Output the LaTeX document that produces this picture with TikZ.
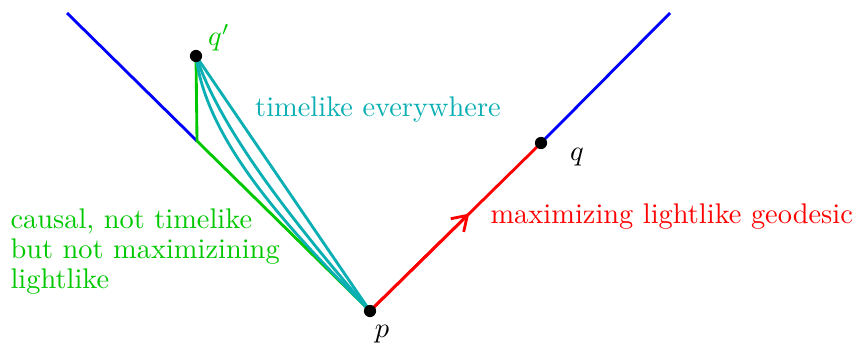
\documentclass[tikz,border=0pt]{standalone}
\usetikzlibrary{arrows.meta,calc}
\definecolor{cgreen}{RGB}{0,200,0}
\definecolor{cteal}{RGB}{10,175,180}
\begin{document}
\begin{tikzpicture}[x=0.352pt,y=-0.352pt,
  ln/.style={line width=1pt},
  dot/.style={circle,fill=black,inner sep=0pt,minimum size=4.3pt},
  lbl/.style={inner sep=0pt}]
\useasboundingbox (0,0) rectangle (860,347);
\coordinate (p) at (370,311);
\coordinate (q) at (541,143);
\coordinate (qp) at (196,56);
\coordinate (c) at (197,141);
\coordinate (lt) at (67,13);
\coordinate (rt) at (670,13);
% blue light cone
\draw[ln,blue] (lt) -- (c);
\draw[ln,blue] (q) -- (rt);
% red geodesic
\draw[ln,red] (p) -- (q);
\draw[ln,red,-{Straight Barb[length=5pt,width=6.5pt]}] (p) -- ($(p)!0.58!(q)$);
% green causal
\draw[ln,cgreen] (p) -- (c) -- (qp);
% teal timelike curves
\draw[ln,cteal] (qp) -- (p);
\draw[ln,cteal] (qp) .. controls (221.3,132.4) and (299.2,229.1) .. (p);
\draw[ln,cteal] (qp) .. controls (206.4,142.5) and (292.6,233.6) .. (p);
% dots
\node[dot] (P) at (p) {};
\node[dot] (Q) at (q) {};
\node[dot] (QP) at (qp) {};
% labels
\node[lbl,cgreen] (lqp) at (219,38) {$q'$};
\node[lbl] (lq) at (577,157) {$q$};
\node[lbl] (lp) at (382,334) {$p$};
\node[lbl,cteal] (lt1) at (378,110) {timelike everywhere};
\node[lbl,red,anchor=west] (lr) at (490,217) {maximizing lightlike geodesic};
\node[lbl,cgreen,anchor=north west,align=left] (lg) at (10,208) {causal, not timelike\\[-1.4pt]but not maximizining\\[-1.4pt]lightlike};
\end{tikzpicture}
\end{document}
